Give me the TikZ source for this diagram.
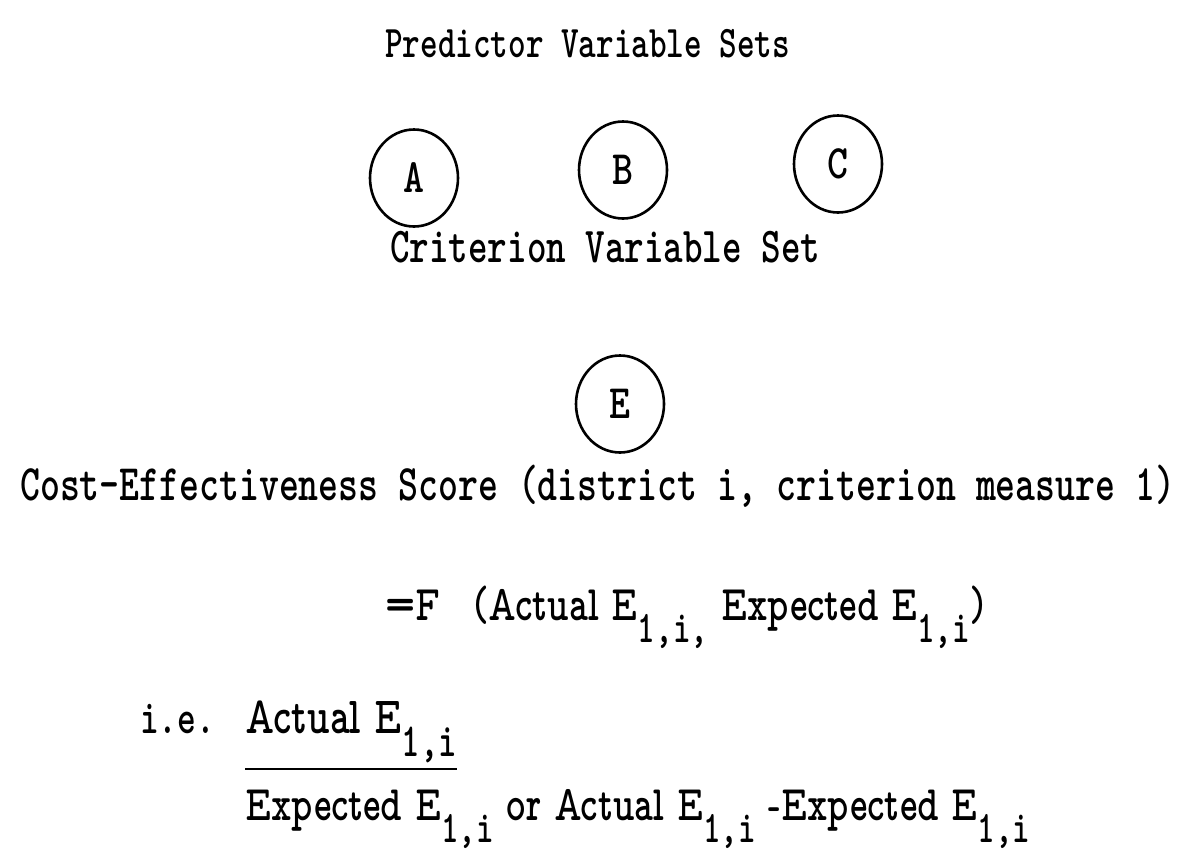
\documentclass[tikz,border=0pt]{standalone}
\usepackage{fontspec}
\usepackage{graphicx}
\usetikzlibrary{shapes.geometric}
\newcommand\prop{\fontfamily{lmvtt}\selectfont}
\newcommand\subsc[1]{\raisebox{-0.45em}{\ttfamily\bfseries\fontsize{29}{29}\selectfont #1}}
\newcommand\fitw[2]{\scalebox{1}[1.35]{\resizebox{#1pt}{!}{#2}}}
\begin{document}
\begin{tikzpicture}[x=1pt,y=-1pt,
  mono/.style={font=\ttfamily\bfseries\fontsize{30}{30}\selectfont, inner sep=0pt, anchor=base west},
  setc/.style={draw, ellipse, line width=2.6pt, inner sep=0pt, minimum width=88pt, minimum height=97pt, font=\ttfamily\bfseries\fontsize{40}{40}\selectfont},
  formula/.style={font=\prop\bfseries\fontsize{32}{32}\selectfont, inner sep=0pt, anchor=base west},
  bar/.style={line width=2.6pt}]
\fill[white] (0,0) rectangle (1194,860);
\useasboundingbox (0,0) rectangle (1194,860);
\node[mono] (pred) at (385,57) {\fitw{405}{Predictor Variable Sets}};
\node[setc] (A) at (414,178) {\scalebox{1}[1.2]{A}};
\node[setc] (B) at (623,170) {\scalebox{1}[1.2]{B}};
\node[setc] (C) at (838,164) {\scalebox{1}[1.2]{C}};
\node[mono] (crit) at (390,262) {\fitw{430}{Criterion Variable Set}};
\node[setc] (E) at (620,404) {\scalebox{1}[1.2]{E}};
\node[mono] (ces) at (20,500) {\fitw{1155}{Cost-Effectiveness Score (district i, criterion measure 1)}};
\node[formula] (fn) at (385,620) {\fitw{600}{=F\hspace{0.9em}(Actual E\subsc{1,i,} Expected E\subsc{1,i})}};
\node[mono] (ie) at (140,733) {\fitw{75}{i.e.}};
\node[formula] (num) at (245,733) {\fitw{212}{Actual E\subsc{1,i}}};
\node[formula] (den) at (245,820) {\fitw{785}{Expected E\subsc{1,i} or Actual E\subsc{1,i} -Expected E\subsc{1,i}}};
\draw[bar] ([yshift=-6pt]num.south west) -- ([yshift=-6pt]num.south east);
\end{tikzpicture}
\end{document}
